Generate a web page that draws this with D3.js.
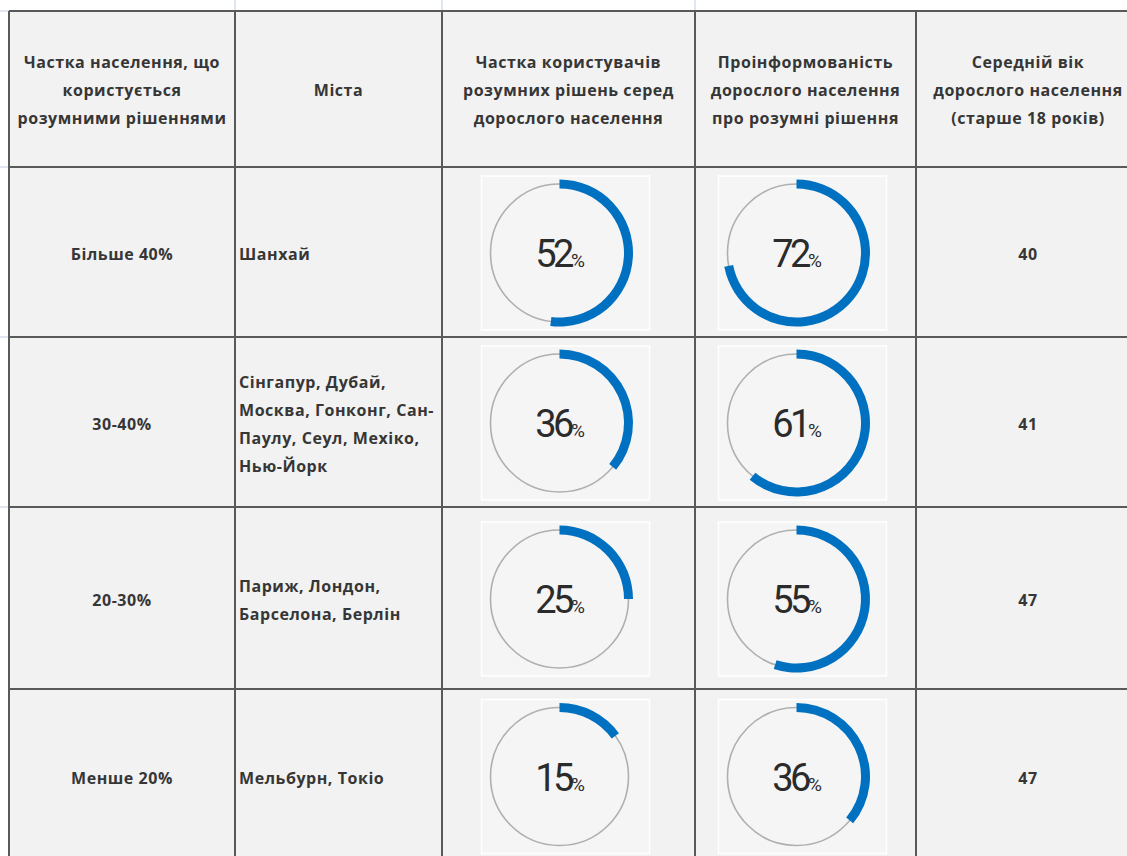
<!DOCTYPE html>
<html>
<head>
<meta charset="utf-8">
<script src="https://cdn.jsdelivr.net/npm/d3@7"></script>
<style>
  html, body { margin: 0; padding: 0; background: #fff; }
  svg { display: block; }
</style>
</head>
<body>
<div id="chart"></div>
<script>
// --- data ---
const headers = [
    ["Частка населення, що", "користується", "розумними рішеннями"],
    ["Міста"],
    ["Частка користувачів", "розумних рішень серед", "дорослого населення"],
    ["Проінформованість", "дорослого населення", "про розумні рішення"],
    ["Середній вік", "дорослого населення", "(старше 18 років)"]
];
const shareLabels = ["Більше 40%", "30-40%", "20-30%", "Менше 20%"];
const cities = [
    ["Шанхай"],
    ["Сінгапур, Дубай,", "Москва, Гонконг, Сан-", "Паулу, Сеул, Мехіко,", "Нью-Йорк"],
    ["Париж, Лондон,", "Барселона, Берлін"],
    ["Мельбурн, Токіо"]
];
const usersShare = [52, 36, 25, 15];
const awareness = [72, 61, 55, 36];
const medianAge = [40, 41, 47, 47];

// --- layout ---
const width = 1127;
const height = 856;
const colEdges = [9, 235, 442, 695, 916, 1140];
const rowEdges = [11, 167, 337, 507, 689, 862];
const lineH = 28;
const font = "'Open Sans', 'DejaVu Sans', sans-serif";

const svg = d3.select("#chart")
    .append("svg")
    .attr("width", width)
    .attr("height", height);

// faint sheet gridline remnants
const ghost = svg.append("g").attr("stroke", "#d5deec").attr("stroke-width", 1.5);
colEdges.slice(1, 4).forEach(x => ghost.append("line").attr("x1", x).attr("x2", x).attr("y1", 0).attr("y2", rowEdges[0]));
rowEdges.slice(0, 4).forEach(y => ghost.append("line").attr("x1", 0).attr("x2", colEdges[0]).attr("y1", y).attr("y2", y));

svg.append("rect")
    .attr("x", colEdges[0]).attr("y", rowEdges[0])
    .attr("width", width - colEdges[0]).attr("height", height - rowEdges[0])
    .attr("fill", "#f2f2f2");

const colMid = i => (colEdges[i] + colEdges[i + 1]) / 2;
const rowMid = i => (rowEdges[i] + rowEdges[i + 1]) / 2;

function multiline(g, lines, x, cy, anchor) {
    const t = g.append("text")
        .attr("text-anchor", anchor)
        .attr("font-family", font)
        .attr("font-weight", 700)
        .attr("font-size", 16)
        .attr("letter-spacing", 0.55)
        .attr("fill", "#363636");
    const y0 = cy - (lines.length - 1) * lineH / 2 + 6;
    lines.forEach((l, k) => {
        t.append("tspan").attr("x", x).attr("y", y0 + k * lineH).text(l);
    });
}

// header
const head = svg.append("g");
headers.forEach((lines, i) => multiline(head, lines, colMid(i), rowMid(0) + 1, "middle"));

// body text
const body = svg.append("g");
shareLabels.forEach((s, r) => multiline(body, [s], colMid(0), rowMid(r + 1) + 2, "middle"));
cities.forEach((c, r) => multiline(body, c, colEdges[1] + 4, rowMid(r + 1) + 2, "start"));
medianAge.forEach((a, r) => multiline(body, [String(a)], colMid(4), rowMid(r + 1) + 2, "middle"));

// donuts
const angle = d3.scaleLinear().domain([0, 100]).range([0, 2 * Math.PI]);
const arc = d3.arc().innerRadius(64.5).outerRadius(73.5).startAngle(0);

function donuts(values, col) {
    const g = svg.append("g")
        .selectAll("g")
        .data(values)
        .join("g")
        .attr("transform", (d, r) => `translate(${colMid(col) - 9}, ${rowMid(r + 1) + 1})`);

    g.append("rect")
        .attr("x", -78).attr("y", -77)
        .attr("width", 168).attr("height", 154)
        .attr("fill", "#f5f5f5")
        .attr("stroke", "#fff")
        .attr("stroke-width", 1.5);

    g.append("circle")
        .attr("r", 69)
        .attr("fill", "none")
        .attr("stroke", "#aeb0b0")
        .attr("stroke-width", 1.6);

    g.append("path")
        .attr("d", d => arc({ endAngle: angle(d) }))
        .attr("fill", "#0070c0");

    const t = g.append("text")
        .attr("text-anchor", "middle")
        .attr("y", 14)
        .attr("font-family", "Roboto, 'Liberation Sans', sans-serif")
        .attr("font-weight", 400)
        .attr("fill", "#2b2b2b");
    t.append("tspan")
        .attr("font-size", 38)
        .attr("letter-spacing", -3.5)
        .text(d => d);
    t.append("tspan")
        .attr("font-size", 19)
        .attr("letter-spacing", -1)
        .text("%");
}
donuts(usersShare, 2);
donuts(awareness, 3);

// grid lines
const grid = svg.append("g").attr("stroke", "#595959").attr("stroke-width", 2);
colEdges.slice(0, 5).forEach(x => grid.append("line").attr("x1", x).attr("x2", x).attr("y1", rowEdges[0]).attr("y2", height));
rowEdges.slice(0, 5).forEach(y => grid.append("line").attr("x1", colEdges[0]).attr("x2", width).attr("y1", y).attr("y2", y));
</script>
</body>
</html>
